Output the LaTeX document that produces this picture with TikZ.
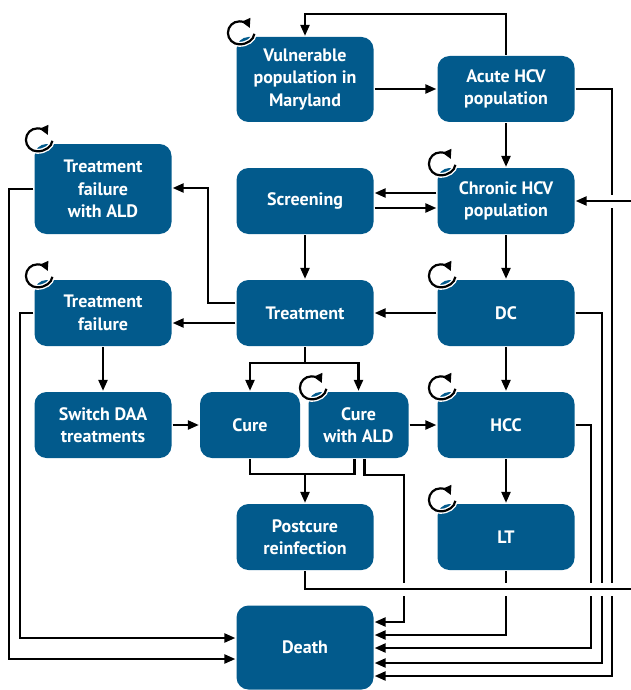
\documentclass[tikz,border=0pt]{standalone}
\usepackage{fontspec}
\setmainfont{PT Sans}
\usetikzlibrary{arrows.meta}
\definecolor{hcvblue}{RGB}{2,90,140}

\begin{document}
\begin{tikzpicture}[->,>={Triangle[length=11pt,width=9pt]},x=1pt,y=-1pt,
	line width=2.3pt,
	main node/.style={rectangle, rounded corners=12pt, fill=hcvblue, text=white, minimum width=137pt, minimum height=66pt, inner sep=0pt, align=center, font=\fontsize{18}{22.5}\selectfont\bfseries},
	small node/.style={main node, minimum width=100pt},
	self loop/.style={-{Triangle[length=9pt,width=9pt]}, line width=2.2pt, preaction={draw=white, line width=5pt, -}},
	jump/.style={preaction={draw=white, line width=13pt, -}}]
	
	\useasboundingbox (0,0) rectangle (631,690);
	
	\node[main node, minimum height=85pt] (1) at (305,79.5) {Vulnerable\\population in\\Maryland};
	\node[main node] (2) at (506,89) {Acute HCV\\population};
	\node[main node, minimum height=90pt] (3) at (103,189) {Treatment\\failure\\with ALD};
	\node[main node] (4) at (305,201) {Screening};
	\node[main node] (5) at (506,201) {Chronic HCV\\population};
	\node[main node] (6) at (103,313) {Treatment\\failure};
	\node[main node] (7) at (305,313) {Treatment};
	\node[main node] (8) at (506,313) {DC};
	\node[main node] (9) at (103,425) {Switch DAA\\treatments};
	\node[small node] (10) at (250,425) {Cure};
	\node[small node] (11) at (358.5,425) {Cure\\with ALD};
	\node[main node] (12) at (506,425) {HCC};
	\node[main node] (13) at (305,537) {Postcure\\reinfection};
	\node[main node] (14) at (506,537) {LT};
	\node[main node, minimum height=84pt] (15) at (305,647.5) {Death};
	
	\def\selfloop#1{\draw[self loop] ([shift={(4,-3)}]#1.north west) ++(15pt,-1pt) arc[start angle=-5, end angle=-90, x radius=15pt, y radius=11.5pt] arc[start angle=-90, end angle=-335, radius=11.5pt];}
	
	% infection and screening
	\draw (1.east |- 2.west) -- (2.west);
	\draw (2.north) -- (2.north |- 0,14) -| (1.north);
	\draw (2.south) -- (5.north);
	\draw (5.west |- 0,193) -- (4.east |- 0,193);
	\draw (4.east |- 0,208) -- (5.west |- 0,208);
	\draw (4.south) -- (7.north);
	\draw (5.south) -- (8.north);
	\draw (8.west) -- (7.east);
	
	% treatment outcomes
	\draw (7.west |- 0,323) -- (6.east |- 0,323);
	\draw (7.west |- 0,303) -| (208,188) -- (3.east |- 0,188);
	\draw (6.south) -- (9.north);
	\draw (9.east) -- (10.west);
	\coordinate (s) at (305,363);
	\draw[-] (7.south) -- (s);
	\draw (s) -| (10.north);
	\draw (s) -| (11.north);
	\draw (11.east) -- (12.west);
	\coordinate (m) at (305,474);
	\draw[-] (10.south) |- (m) -| ([xshift=-4pt]11.south);
	\draw (m) -- (13.north);
	\draw (8.south) -- (12.north);
	\draw (12.south) -- (14.north);
	
	% death
	\draw (3.west) -| (9,659) -- (15.west |- 0,659);
	\draw (6.west) -| (20,638) -- (15.west |- 0,638);
	\draw ([xshift=6pt]11.south) -- ++(0,16) -| (404,622) -- (15.east |- 0,622);
	\draw (14.south) |- (15.east |- 0,635);
	\draw (12.east) -| (591,648) -- (15.east |- 0,648);
	\draw (8.east) -| (602,663) -- (15.east |- 0,663);
	\draw (2.east) -| (612,676) -- (15.east |- 0,676);
	
	% reinfection
	\draw[jump] (13.south) |- (634,589) |- (5.east);
	
	\selfloop{1}
	\selfloop{3}
	\selfloop{5}
	\selfloop{6}
	\selfloop{8}
	\selfloop{11}
	\selfloop{12}
	\selfloop{14}
\end{tikzpicture}
\end{document}
